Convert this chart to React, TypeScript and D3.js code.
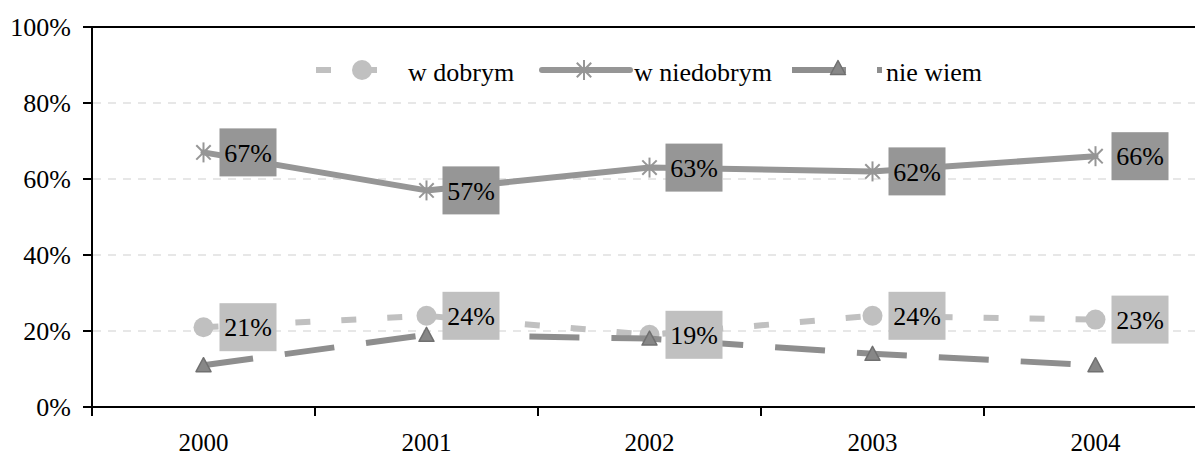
import React from 'react';
import * as d3 from 'd3';

const years = ['2000', '2001', '2002', '2003', '2004'];
const wDobrym = [21, 24, 19, 24, 23];
const wNiedobrym = [67, 57, 63, 62, 66];
const nieWiem = [11, 19, 18, 14, 11];
const yTickValues = [0, 20, 40, 60, 80, 100];
const seriesNames = ['w dobrym', 'w niedobrym', 'nie wiem'];

const W = 1195;
const H = 456;
const FONT = '"Liberation Serif", "Times New Roman", serif';

const C_LIGHT = '#c0c0c0';
const C_MID = '#969696';
const C_DARK = '#8e8e8e';

function Star({ cx, cy, r, color }: { cx: number; cy: number; r: number; color: string }) {
  const d = r * 0.72;
  return (
    <g stroke={color} strokeWidth={2}>
      <line x1={cx} y1={cy - r} x2={cx} y2={cy + r} />
      <line x1={cx - d} y1={cy - d} x2={cx + d} y2={cy + d} />
      <line x1={cx - d} y1={cy + d} x2={cx + d} y2={cy - d} />
    </g>
  );
}

function Tri({ cx, cy }: { cx: number; cy: number }) {
  const s = 15;
  const h = 13;
  const p = `${cx},${cy - h / 2 - 1} ${cx - s / 2},${cy + h / 2} ${cx + s / 2},${cy + h / 2}`;
  return <polygon points={p} fill="#878787" stroke="#707070" strokeWidth={1.5} strokeLinejoin="round" />;
}

export default function App() {
  const x = d3.scaleBand<string>().domain(years).range([92, 1207]).padding(0);
  const y = d3.scaleLinear().domain([0, 100]).range([407, 27]);
  const cx = (yr: string) => (x(yr) as number) + x.bandwidth() / 2;

  const line = d3
    .line<number>()
    .x((_, i) => cx(years[i]))
    .y((v) => y(v));

  const boxW = 57;
  const boxH = 48;
  const label = (vals: number[], fill: string, key: string) =>
    vals.map((v, i) => {
      const px = cx(years[i]) + 16;
      const py = y(v);
      return (
        <g key={key + i}>
          <rect x={px} y={py - boxH / 2} width={boxW} height={boxH} fill={fill} />
          <text
            x={px + boxW / 2}
            y={py}
            dy="0.35em"
            textAnchor="middle"
            fontSize={26}
            fontFamily={FONT}
            fill="#000"
          >
            {v}%
          </text>
        </g>
      );
    });

  const legendY = 70;
  const legendTextY = 81;
  const leg = [
    { x0: 316, w: 88, mx: 362, tx: 408 },
    { x0: 542, w: 88, mx: 584, tx: 634 },
    { x0: 792, w: 90, mx: 838, tx: 886 },
  ];

  return (
    <svg width={W} height={H} style={{ position: 'absolute', left: 0, top: 0, background: '#fff' }}>
      <rect x={0} y={0} width={W} height={H} fill="#fff" />
      {/* gridlines */}
      {yTickValues
        .filter((t) => t > 0 && t < 100)
        .map((t) => (
          <line
            key={'g' + t}
            x1={93}
            x2={W}
            y1={y(t)}
            y2={y(t)}
            stroke="#cfcfcf"
            strokeWidth={1}
            strokeDasharray="8,7"
          />
        ))}

      {/* series lines */}
      <path d={line(wDobrym) as string} fill="none" stroke={C_LIGHT} strokeWidth={6} strokeDasharray="15,31" />
      <path
        d={line(wNiedobrym) as string}
        fill="none"
        stroke={C_MID}
        strokeWidth={6}
        strokeLinejoin="round"
        strokeLinecap="round"
      />
      {wDobrym.map((v, i) => (
        <circle key={'c' + i} cx={cx(years[i])} cy={y(v)} r={10} fill={C_LIGHT} />
      ))}
      <path d={line(nieWiem) as string} fill="none" stroke={C_DARK} strokeWidth={6} strokeDasharray="50,32" />
      {wNiedobrym.map((v, i) => (
        <Star key={'s' + i} cx={cx(years[i])} cy={y(v)} r={10} color={C_MID} />
      ))}
      {nieWiem.map((v, i) => (
        <Tri key={'t' + i} cx={cx(years[i])} cy={y(v)} />
      ))}

      {/* labels */}
      {label(wNiedobrym, C_MID, 'ln')}
      {label(wDobrym, C_LIGHT, 'ld')}

      {/* axes */}
      <line x1={92} x2={W} y1={y(100)} y2={y(100)} stroke="#000" strokeWidth={2} />
      <line x1={92} x2={92} y1={y(100)} y2={y(0) + 9} stroke="#000" strokeWidth={2} />
      <line x1={83} x2={W} y1={y(0)} y2={y(0)} stroke="#000" strokeWidth={2} />
      {yTickValues.map((t) => (
        <g key={'yt' + t}>
          <line x1={83} x2={92} y1={y(t)} y2={y(t)} stroke="#000" strokeWidth={2} />
          <text
            x={71}
            y={y(t)}
            dy="0.35em"
            textAnchor="end"
            fontSize={26}
            fontFamily={FONT}
            fill="#000"
          >
            {t}%
          </text>
        </g>
      ))}
      {years.map((yr) => (
        <g key={'xt' + yr}>
          {(x(yr) as number) > 92 && (
            <line
              x1={x(yr) as number}
              x2={x(yr) as number}
              y1={y(0)}
              y2={y(0) + 9}
              stroke="#000"
              strokeWidth={2}
            />
          )}
          <text x={cx(yr)} y={451} textAnchor="middle" fontSize={25} fontFamily={FONT} fill="#000">
            {yr}
          </text>
        </g>
      ))}

      {/* legend */}
      <g>
        <line
          x1={leg[0].x0}
          x2={leg[0].x0 + leg[0].w}
          y1={legendY}
          y2={legendY}
          stroke={C_LIGHT}
          strokeWidth={6}
          strokeDasharray="15,31"
        />
        <circle cx={leg[0].mx} cy={legendY} r={10} fill={C_LIGHT} />
        <line
          x1={leg[1].x0}
          x2={leg[1].x0 + leg[1].w}
          y1={legendY}
          y2={legendY}
          stroke={C_MID}
          strokeWidth={6}
          strokeLinecap="round"
        />
        <Star cx={leg[1].mx} cy={legendY} r={10} color={C_MID} />
        <line
          x1={leg[2].x0}
          x2={leg[2].x0 + leg[2].w}
          y1={legendY}
          y2={legendY}
          stroke={C_DARK}
          strokeWidth={6}
          strokeDasharray="54,31"
        />
        <Tri cx={leg[2].mx} cy={legendY - 2} />
        {seriesNames.map((n, i) => (
          <text key={'lt' + i} x={leg[i].tx} y={legendTextY} fontSize={26} fontFamily={FONT} fill="#000">
            {n}
          </text>
        ))}
      </g>
    </svg>
  );
}
